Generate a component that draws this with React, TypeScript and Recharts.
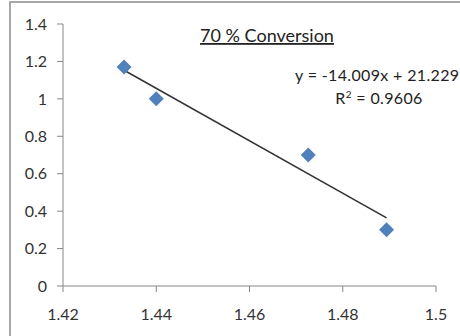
import React from 'react';
import { ScatterChart, Scatter, XAxis, YAxis, Customized } from 'recharts';

const xValues = [1.4331, 1.44, 1.4726, 1.4894];
const yValues = [1.17, 1.0, 0.7, 0.3];
const trendX = [1.4331, 1.4894];
const trendY = [1.153, 0.364];
const xTicks = [1.42, 1.44, 1.46, 1.48, 1.5];
const yTicks = [0, 0.2, 0.4, 0.6, 0.8, 1, 1.2, 1.4];
const titleText = '70 % Conversion';
const equationText = 'y = -14.009x + 21.229';
const r2Value = '0.9606';

const points = xValues.map((x, i) => ({ x, y: yValues[i] }));
const trend = trendX.map((x, i) => ({ x, y: trendY[i] }));

const FONT = 'Lato, "Open Sans", sans-serif';
const AXIS = '#868686';
const TEXT = '#333333';

const Diamond = (props: any) => {
  const { cx, cy } = props;
  const h = 7.5;
  return (
    <polygon
      points={`${cx},${cy - h} ${cx + h},${cy} ${cx},${cy + h} ${cx - h},${cy}`}
      fill="#4F81BD"
    />
  );
};

const Overlay = () => (
  <g style={{ fontFamily: FONT }}>
    <text x={267} y={42} textAnchor="middle" fontSize={18} fill="#222222" textDecoration="underline">
      {titleText}
    </text>
    <text x={295} y={81} textAnchor="start" fontSize={16} fill="#222222" letterSpacing={0.35}>
      {equationText}
    </text>
    <text x={379} y={104} textAnchor="middle" fontSize={16} fill="#222222" letterSpacing={0.35}>
      R<tspan fontSize={10} dy={-6}>2</tspan>
      <tspan dy={6}>{' = ' + r2Value}</tspan>
    </text>
  </g>
);

export default function App() {
  return (
    <div style={{ position: 'absolute', left: 0, top: 0, width: 460, height: 336, overflow: 'hidden', background: '#fff' }}>
      <div
        style={{
          position: 'absolute',
          left: 9,
          top: 1,
          width: 600,
          height: 600,
          borderLeft: '2px solid #a8a8a8',
          borderTop: '2px solid #a8a8a8',
        }}
      />
      <div style={{ position: 'absolute', left: 0, top: 0 }}>
        <ScatterChart width={460} height={336} margin={{ top: 24, right: 24, bottom: 20, left: 0 }}>
          <XAxis
            type="number"
            dataKey="x"
            domain={[1.42, 1.5]}
            ticks={xTicks}
            allowDataOverflow
            height={30}
            tickSize={6}
            tickMargin={17}
            axisLine={{ stroke: AXIS }}
            tickLine={{ stroke: AXIS }}
            tick={{ fill: TEXT, fontSize: 16, fontFamily: FONT }}
            tickFormatter={(v: number) => String(v)}
            interval={0}
          />
          <YAxis
            type="number"
            dataKey="y"
            domain={[0, 1.4]}
            ticks={yTicks}
            allowDataOverflow
            width={63}
            tickSize={6}
            tickMargin={10}
            axisLine={{ stroke: AXIS }}
            tickLine={{ stroke: AXIS }}
            tick={{ fill: TEXT, fontSize: 16, fontFamily: FONT }}
            tickFormatter={(v: number) => String(v)}
            interval={0}
          />
          <Scatter
            data={trend}
            line={{ stroke: '#333333', strokeWidth: 1.5 }}
            shape={() => <g />}
            isAnimationActive={false}
          />
          <Scatter data={points} shape={Diamond} isAnimationActive={false} />
          <Customized component={Overlay} />
        </ScatterChart>
      </div>
    </div>
  );
}
